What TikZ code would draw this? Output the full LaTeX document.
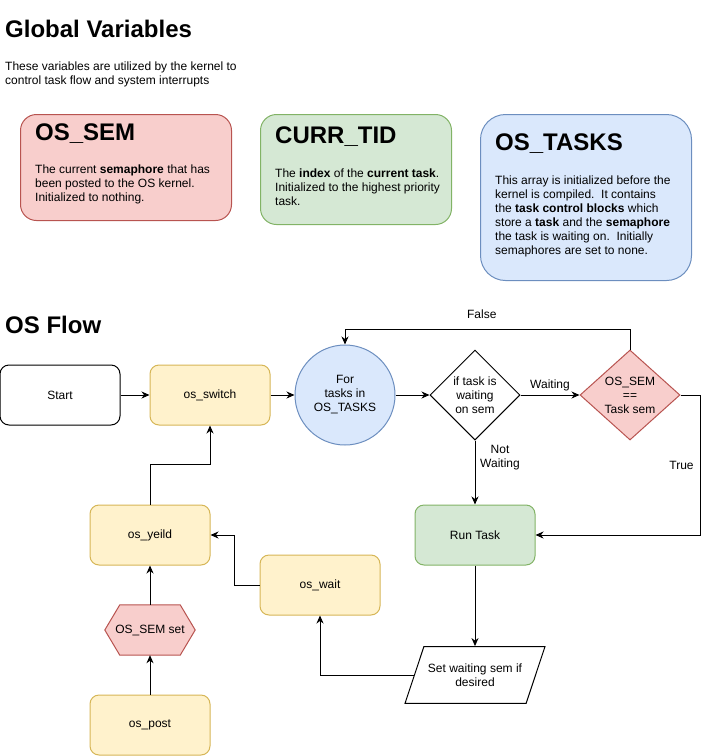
\documentclass[tikz,border=0pt]{standalone}
\usepackage{fontspec}
\setmainfont{Liberation Sans}
\usetikzlibrary{positioning, arrows.meta, shapes.geometric, backgrounds}

\definecolor{yellowfill}{HTML}{FFF2CC}
\definecolor{yellowdraw}{HTML}{D6B656}
\definecolor{greenfill}{HTML}{D5E8D4}
\definecolor{greendraw}{HTML}{82B366}
\definecolor{redfill}{HTML}{F8CECC}
\definecolor{reddraw}{HTML}{B85450}
\definecolor{bluefill}{HTML}{DAE8FC}
\definecolor{bluedraw}{HTML}{6C8EBF}

\begin{document}
\begin{tikzpicture}
    [
        x=1pt, y=-1pt, on grid, >={Stealth[length=8pt, width=7pt, inset=2.5pt]},
        every node/.style={font=\fontsize{12}{14}\selectfont, inner sep=0pt},
        title_text/.style={font=\fontsize{24}{28}\selectfont\bfseries, anchor=west},
        body_text/.style={align=left, anchor=north west},
        flow_node/.style={rectangle, rounded corners=9pt, line width=1pt, minimum width=120pt, minimum height=60pt},
        white_node/.style={flow_node, draw=black, fill=white},
        yellow_node/.style={flow_node, draw=yellowdraw, fill=yellowfill},
        green_node/.style={flow_node, draw=greendraw, fill=greenfill},
        red_box/.style={rectangle, rounded corners=16pt, line width=1pt, draw=reddraw, fill=redfill, anchor=north west},
        green_box/.style={rectangle, rounded corners=16pt, line width=1pt, draw=greendraw, fill=greenfill, anchor=north west},
        blue_box/.style={rectangle, rounded corners=25pt, line width=1pt, draw=bluedraw, fill=bluefill, anchor=north west},
        blue_circle/.style={circle, align=center, line width=1pt, draw=bluedraw, fill=bluefill, minimum size=100pt},
        plain_diamond/.style={diamond, line width=1pt, draw=black, fill=white, minimum width=90pt, minimum height=90pt},
        red_diamond/.style={diamond, line width=1pt, draw=reddraw, fill=redfill, minimum width=100pt, minimum height=90pt},
        para_node/.style={trapezium, trapezium left angle=71.6, trapezium right angle=108.4, trapezium stretches body=true, align=center, line width=1pt, draw=black, fill=white, inner ysep=17pt, minimum width=140pt},
    ]
        \useasboundingbox (0,0) rectangle (709,756);

        \node[title_text] (global_title) at (5,29) {Global Variables};
        \node[body_text] (global_text) at (5,62) {These variables are utilized by the kernel to\\control task flow and system interrupts};

        \node[red_box, minimum width=211pt, minimum height=106pt] (sem_box) at (20,114) {};
        \node[title_text] (sem_title) at (35,134) {OS\_SEM};
        \node[body_text] (sem_text) at (35,165) {The current \textbf{semaphore} that has\\been posted to the OS kernel.\\Initialized to nothing.};

        \node[green_box, minimum width=191pt, minimum height=110pt] (tid_box) at (260,114) {};
        \node[title_text] (tid_title) at (275,137) {CURR\_TID};
        \node[body_text] (tid_text) at (275,169) {The \textbf{index} of the \textbf{current task}.\\Initialized to the highest priority\\task.};

        \node[blue_box, minimum width=211pt, minimum height=166pt] (tasks_box) at (480,114) {};
        \node[title_text] (tasks_title) at (495,144) {OS\_TASKS};
        \node[body_text] (tasks_text) at (495,176) {This array is initialized before the\\kernel is compiled.\ \ It contains\\the \textbf{task control blocks} which\\store a \textbf{task} and the \textbf{semaphore}\\the task is waiting on.\ \ Initially\\semaphores are set to none.};

        \node[title_text] (flow_title) at (5,325) {OS Flow};

        \node[white_node] (start) at (60,395) {Start};
        \node[yellow_node] (switch) [right = 150pt of start] {os\_switch};
        \node[blue_circle] (loop) [right = 135pt of switch] {For\\tasks in\\OS\_TASKS};
        \node[plain_diamond, label={[align=center]center:{if task is\\waiting\\on sem}}] (waitcheck) [right = 130pt of loop] {};
        \node[red_diamond, label={[align=center]center:{OS\_SEM\\==\\Task sem}}] (semcheck) [right = 155pt of waitcheck] {};
        \node[green_node] (run) [below = 140pt of waitcheck] {Run Task};
        \node[para_node] (setsem) [below = 140pt of run] {Set waiting sem if\\desired};
        \node[yellow_node] (wait) at (320,585) {os\_wait};
        \node[yellow_node] (yeild) at (150,535) {os\_yeild};
        \node[minimum width=90pt, minimum height=50pt] (semset) [below = 95pt of yeild] {OS\_SEM set};
        \node[yellow_node] (post) [below = 95pt of semset] {os\_post};

        \begin{scope}[on background layer]
            \draw[line width=1pt, draw=reddraw, fill=redfill] (semset.west) -- ([xshift=15pt]semset.north west) -- ([xshift=-15pt]semset.north east) -- (semset.east) -- ([xshift=-15pt]semset.south east) -- ([xshift=15pt]semset.south west) -- cycle;
        \end{scope}

        \draw[->, line width=1pt, color=black] (start) -- (switch) ;
        \draw[->, line width=1pt, color=black] (switch) -- (loop) ;
        \draw[->, line width=1pt, color=black] (loop) -- (waitcheck) ;
        \draw[->, line width=1pt, color=black] (waitcheck) -- node[midway, yshift=10pt] {Waiting} (semcheck) ;
        \draw[->, line width=1pt, color=black] (semcheck.north) -- ++(0,-20) -| node[pos=0.26, yshift=15pt] {False} (loop.north) ;
        \draw[->, line width=1pt, color=black] (waitcheck.south) -- node[pos=0.27, xshift=25pt, align=center] {Not\\Waiting} (run.north) ;
        \draw[->, line width=1pt, color=black] (semcheck.east) -- ++(20,0) |- node[pos=0.25, xshift=-19pt] {True} (run.east) ;
        \draw[->, line width=1pt, color=black] (run) -- (setsem) ;
        \draw[->, line width=1pt, color=black] (setsem.west) -| (wait.south) ;
        \draw[->, line width=1pt, color=black] (wait.west) -- ++(-25,0) |- (yeild.east) ;
        \draw[->, line width=1pt, color=black] (yeild.north) -- ++(0,-40) -| (switch.south) ;
        \draw[->, line width=1pt, color=black] (post) -- (semset) ;
        \draw[->, line width=1pt, color=black] (semset) -- (yeild) ;
    \end{tikzpicture}
\end{document}
